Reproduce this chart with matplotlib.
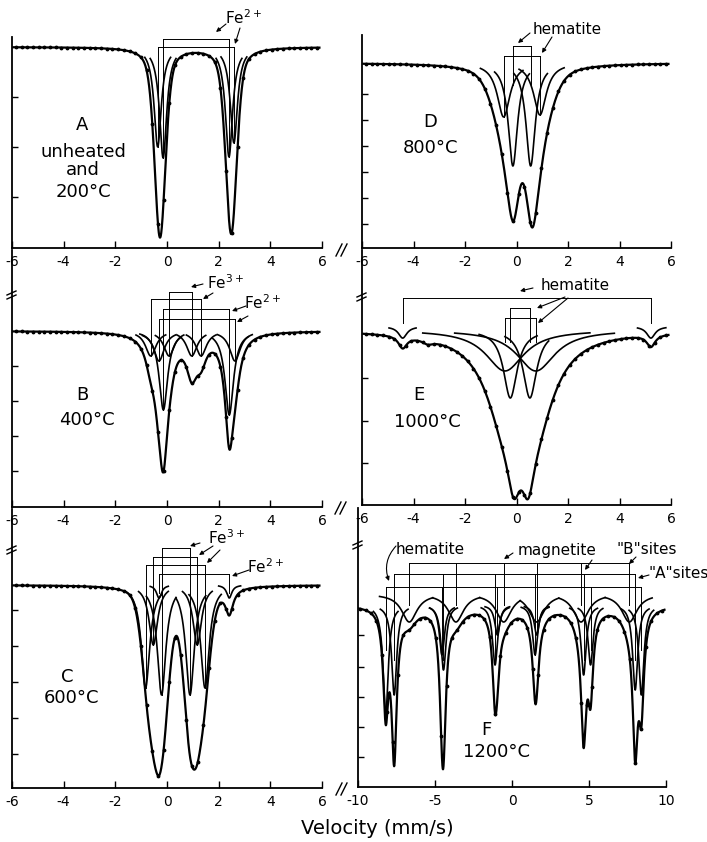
import numpy as np
import matplotlib
matplotlib.use("Agg")
import matplotlib.pyplot as plt
from matplotlib.lines import Line2D

plt.rcParams['font.family'] = ['DejaVu Sans']
plt.rcParams['axes.unicode_minus'] = False

W, H = 707, 842

# Mossbauer fits:
# line centre (mm/s), absorption depth, half width, lorentzian fraction
# A: unheated and 200 C
A_pos = [-0.33, -0.21, 2.42, 2.55]
A_dep = [0.100, 0.100, 0.099, 0.099]
A_wid = [0.24, 0.24, 0.24, 0.24]
A_eta = [0.5, 0.5, 0.5, 0.5]
# sub-spectra: centre, depth, half width, drawn from, drawn to, lift
A_sub = [(-0.36, 0.100, 0.17, -0.86, 0.14, 0),
         (-0.15, 0.111, 0.17, -0.65, 0.35, 0),
         (2.40, 0.110, 0.17, 1.90, 2.90, 0),
         (2.59, 0.096, 0.17, 2.09, 3.09, 0)]

# B: 400 C
B_pos = [-0.14, 2.41, -0.31, 2.63, 0.08, 0.96, -0.63, 1.32]
B_dep = [0.095, 0.095, 0.040, 0.035, 0.020, 0.036, 0.020, 0.022]
B_wid = [0.20, 0.20, 0.25, 0.25, 0.25, 0.25, 0.25, 0.25]
B_eta = [1] * 8
B_sub = [(-0.14, 0.079, 0.20, -0.95, 0.55, 0), (2.41, 0.084, 0.20, 1.75, 3.15, 0),
         (-0.31, 0.030, 0.25, -1.05, 0.35, 0), (2.63, 0.030, 0.25, 1.95, 3.30, 0),
         (0.08, 0.025, 0.25, -0.45, 0.65, 0), (0.96, 0.025, 0.25, 0.40, 1.50, 0),
         (-0.63, 0.025, 0.25, -1.20, -0.05, 0), (1.32, 0.025, 0.25, 0.75, 1.90, 0)]

# C: 600 C
C_pos = [-0.76, -0.46, -0.14, 0.86, 1.16, 1.46, -0.31, 2.41]
C_dep = [0.071, 0.086, 0.110, 0.110, 0.086, 0.071, 0.012, 0.025]
C_wid = [0.30, 0.30, 0.30, 0.30, 0.30, 0.30, 0.18, 0.18]
C_eta = [0.3, 0.3, 0.3, 0.3, 0.3, 0.3, 1, 1]
C_sub = [(-0.21, 0.110, 0.20, -0.80, 0.35, 0), (0.89, 0.110, 0.20, 0.35, 1.50, 0),
         (-0.53, 0.060, 0.20, -1.10, 0.05, 0), (1.17, 0.060, 0.20, 0.60, 1.75, 0),
         (-0.83, 0.103, 0.20, -1.60, -0.20, 0), (1.47, 0.103, 0.20, 0.85, 2.10, 0),
         (-0.31, 0.013, 0.12, -0.65, 0.05, 0), (2.41, 0.013, 0.12, 2.00, 2.85, 0)]

# D: 800 C
D_pos = [-0.12, 0.60, -0.47, 0.91]
D_dep = [0.095, 0.100, 0.060, 0.060]
D_wid = [0.30, 0.30, 0.55, 0.55]
D_eta = [0.6, 0.6, 0.5, 0.5]
D_sub = [(-0.14, 0.103, 0.22, -0.85, 0.50, 0), (0.55, 0.103, 0.22, -0.10, 1.20, 0),
         (-0.50, 0.054, 0.30, -1.40, 0.25, 0), (0.91, 0.052, 0.30, 0.10, 1.85, 0)]

# E: 1000 C
E_pos = [-0.10, 0.45, -0.45, 0.75, -4.42, 5.22, -3.45]
E_dep = [0.052, 0.052, 0.075, 0.075, 0.012, 0.012, 0.004]
E_wid = [0.30, 0.30, 0.90, 0.90, 0.20, 0.20, 0.25]
E_eta = [1] * 7
E_sub = [(-0.24, 0.068, 0.32, -1.45, 0.80, 0), (0.52, 0.068, 0.32, -0.45, 1.25, 0),
         (-0.45, 0.041, 0.90, -3.64, 2.85, 0), (0.75, 0.041, 0.90, -2.40, 3.80, 0),
         (-4.42, 0.0116, 0.20, -4.95, -3.90, 0.0035), (5.22, 0.0116, 0.20, 4.70, 5.80, 0.0035)]

# F: 1200 C (hematite + magnetite A and B sites)
F_hem_pos = [-8.20, -4.55, -0.95, 1.60, 5.10, 8.40]
F_hem_dep = [0.100, 0.060, 0.030, 0.030, 0.075, 0.090]
F_A_pos = [-7.65, -4.45, -1.10, 1.50, 4.65, 8.00]
F_A_dep = [0.144, 0.105, 0.078, 0.055, 0.114, 0.128]
F_B_pos = [-6.67, -3.64, -0.54, 1.60, 4.48, 7.62]
F_B_dep = [0.015, 0.015, 0.015, 0.015, 0.015, 0.015]
F_hem_sub = [(c, d, 0.20, c - 0.8, c + 0.8, 0)
             for c, d in zip(F_hem_pos, [0.11, 0.05, 0.03, 0.03, 0.06, 0.09])]
F_A_sub = [(c, d, 0.20, c - 0.9, c + 0.9, 0)
           for c, d in zip(F_A_pos, [0.09, 0.065, 0.06, 0.05, 0.07, 0.085])]
F_B_edges = [-8.6, -5.15, -2.1, 0.53, 3.04, 6.05, 9.1]
F_B_sub = [(c, 0.028, 0.60, F_B_edges[i], F_B_edges[i + 1], 0.011)
           for i, c in enumerate(F_B_pos)]


def lor(v, c, d, g):
    return d / (1 + ((v - c) / g) ** 2)


def voigt(v, c, d, g, eta):
    x = (v - c) / g
    return d * (eta / (1 + x ** 2) + (1 - eta) * np.exp(-np.log(2) * x ** 2))


def spectrum(v, pos, dep, wid, eta):
    out = np.ones_like(v)
    for c, d, g, e in zip(pos, dep, wid, eta):
        out = out - voigt(v, c, d, g, e)
    return out


def panel(left, top, right, bottom):
    return fig.add_axes([left / W, 1 - bottom / H, (right - left) / W, (bottom - top) / H])


def setup(ax, xlim, ylim, xticks, yticks):
    ax.set_xlim(xlim)
    ax.set_ylim(ylim)
    ax.set_facecolor('none')
    for s in ['top', 'right']:
        ax.spines[s].set_visible(False)
    for s in ['left', 'bottom']:
        ax.spines[s].set_linewidth(1.3)
    ax.set_xticks(xticks)
    ax.set_yticks(yticks)
    ax.tick_params(axis='x', direction='in', length=5, width=1, pad=5, labelsize=10)
    ax.tick_params(axis='y', direction='in', length=4, width=1, labelleft=False)


def draw(ax, pos, dep, wid, eta, sub, step):
    lo, hi = ax.get_xlim()
    v = np.linspace(lo + 0.05, hi - 0.1, 2000)
    ax.plot(v, spectrum(v, pos, dep, wid, eta), color='k', lw=1.6)
    vd = np.arange(lo + 0.15, hi - 0.1, step)
    ax.plot(vd, spectrum(vd, pos, dep, wid, eta), '.', color='k', ms=3.5)
    for c, d, g, a, b, lift in sub:
        vv = np.linspace(a, b, 200)
        ax.plot(vv, 1 + lift - lor(vv, c, d, g), color='k', lw=1.2)


def bracket(ax, subs, y, stop=None):
    xs = [s[0] for s in subs]
    ax.plot([xs[0], xs[-1]], [y, y], color='k', lw=0.7, clip_on=False)
    for s in subs:
        bot = 1 + s[5] - s[1]
        if stop is not None:
            bot = max(bot, stop)
        ax.plot([s[0], s[0]], [y, bot], color='k', lw=0.7, clip_on=False)


def label(x, y, s, size=11, ha='center'):
    fig.text(x / W, 1 - y / H, s, fontsize=size, ha=ha, va='center')


def arrow(x0, y0, x1, y1, rad=0.0):
    fig.axes[0].annotate('', xy=(x1, H - y1), xytext=(x0, H - y0),
                         xycoords='figure pixels', textcoords='figure pixels',
                         arrowprops=dict(arrowstyle='-|>', lw=0.8, color='k',
                                         mutation_scale=6, shrinkA=0, shrinkB=0,
                                         connectionstyle='arc3,rad=%s' % rad),
                         annotation_clip=False)


def stroke(x0, y0, x1, y1):
    fig.add_artist(Line2D([x0 / W, x1 / W], [1 - y0 / H, 1 - y1 / H],
                          transform=fig.transFigure, color='k', lw=1.0))


def spine_break(x, y):
    stroke(x - 5, y + 1, x + 4, y - 3)
    stroke(x - 5, y + 5, x + 4, y + 1)


def axis_break(x, y):
    stroke(x - 5, y + 6, x + 1, y - 6)
    stroke(x, y + 6, x + 6, y - 6)


fig = plt.figure(figsize=(W / 100, H / 100), dpi=100)

axA = panel(12, 37, 322, 248)
axB = panel(12, 250, 322, 507)
axC = panel(12, 509, 322, 788)
axD = panel(362, 35, 671, 248)
axE = panel(362, 250, 671, 505)
axF = panel(358, 508, 666, 787)

ticks6 = [-6, -4, -2, 0, 2, 4, 6]
setup(axA, (-6, 6), (0.799, 1.010), ticks6, [0.95, 0.90, 0.85])
setup(axB, (-6, 6), (0.824, 1.081), ticks6, [0.965, 0.93, 0.895, 0.86])
setup(axC, (-6, 6), (0.797, 1.076), ticks6, [0.975, 0.939, 0.903, 0.867, 0.831])
setup(axD, (-6, 6), (0.815, 1.028), ticks6, [0.969, 0.943, 0.917, 0.891, 0.865, 0.839])
setup(axE, (-6, 6), (0.825, 1.080), ticks6, [0.952, 0.909, 0.867])
setup(axF, (-10, 10), (0.818, 1.097), [-10, -5, 0, 5, 10], [0.970, 0.938, 0.908, 0.878, 0.848])

draw(axA, A_pos, A_dep, A_wid, A_eta, A_sub, 0.22)
draw(axB, B_pos, B_dep, B_wid, B_eta, B_sub, 0.22)
draw(axC, C_pos, C_dep, C_wid, C_eta, C_sub, 0.22)
draw(axD, D_pos, D_dep, D_wid, D_eta, D_sub, 0.22)
draw(axE, E_pos, E_dep, E_wid, E_eta, E_sub, 0.22)
F_pos = F_hem_pos + F_A_pos + F_B_pos
F_dep = F_hem_dep + F_A_dep + F_B_dep
F_wid = [0.2] * 12 + [0.6] * 6
draw(axF, F_pos, F_dep, F_wid, [1] * 18, F_hem_sub + F_A_sub + F_B_sub, 0.35)

# brackets marking the fitted doublets / sextets
bracket(axA, [A_sub[1], A_sub[2]], 1.008)
bracket(axA, [A_sub[0], A_sub[3]], 1.000)
bracket(axB, [B_sub[4], B_sub[5]], 1.039)
bracket(axB, [B_sub[6], B_sub[7]], 1.032)
bracket(axB, [B_sub[0], B_sub[1]], 1.022)
bracket(axB, [B_sub[2], B_sub[3]], 1.012)
bracket(axC, [C_sub[0], C_sub[1]], 1.037)
bracket(axC, [C_sub[2], C_sub[3]], 1.028)
bracket(axC, [C_sub[4], C_sub[5]], 1.020)
bracket(axC, [C_sub[6], C_sub[7]], 1.011, stop=0.992)
bracket(axD, [D_sub[0], D_sub[1]], 1.017, stop=0.978)
bracket(axD, [D_sub[2], D_sub[3]], 1.007)
bracket(axE, [E_sub[4], E_sub[5]], 1.032, stop=1.007)
bracket(axE, [E_sub[0], E_sub[1]], 1.022, stop=0.988)
bracket(axE, [E_sub[2], E_sub[3]], 1.012, stop=0.988)
bracket(axF, F_B_sub, 1.042, stop=1.0)
bracket(axF, F_A_sub, 1.031, stop=0.945)
bracket(axF, F_hem_sub, 1.018, stop=0.955)

# panel names
for ax, items in [(axA, [(-3.28, 0.922, 'A'), (-3.24, 0.895, 'unheated'),
                         (-3.24, 0.877, 'and'), (-3.24, 0.855, '200°C')]),
                  (axB, [(-3.28, 0.936, 'B'), (-3.09, 0.911, '400°C')]),
                  (axC, [(-3.87, 0.908, 'C'), (-3.68, 0.887, '600°C')]),
                  (axD, [(-3.35, 0.941, 'D'), (-3.35, 0.915, '800°C')]),
                  (axE, [(-3.80, 0.935, 'E'), (-3.47, 0.908, '1000°C')]),
                  (axF, [(-1.64, 0.875, 'F'), (-0.99, 0.853, '1200°C')])]:
    for x, y, s in items:
        ax.text(x, y, s, fontsize=13, ha='center', va='center')

# site labels and arrows (figure pixels)
label(243, 18, 'Fe$^{2+}$')
arrow(226, 24, 216, 32)
arrow(240, 28, 235, 44)
label(225, 283, 'Fe$^{3+}$')
arrow(203, 284, 191, 287)
arrow(213, 293, 203, 299)
label(262, 303, 'Fe$^{2+}$')
arrow(246, 306, 232, 311)
arrow(248, 316, 237, 322)
label(226, 538, 'Fe$^{3+}$')
arrow(200, 543, 190, 546)
arrow(213, 546, 199, 555)
arrow(220, 550, 207, 563)
label(265, 567, 'Fe$^{2+}$')
arrow(249, 570, 232, 576)
label(567, 30, 'hematite')
arrow(530, 33, 518, 43)
arrow(552, 37, 542, 53)
label(575, 285, 'hematite')
arrow(533, 288, 520, 291)
arrow(565, 297, 537, 308)
arrow(568, 298, 538, 323)
label(430, 550, 'hematite')
arrow(396, 546, 389, 581, rad=0.3)
label(557, 551, 'magnetite')
arrow(513, 553, 504, 559)
arrow(592, 560, 585, 570)
label(617, 550, '"B"sites', ha='left')
arrow(636, 557, 629, 564)
label(648, 574, '"A"sites', ha='left')
arrow(649, 575, 638, 578)

# axis breaks
spine_break(12, 294)
spine_break(12, 549)
spine_break(362, 296)
spine_break(358, 544)
axis_break(341, 250)
axis_break(340, 508)
axis_break(341, 789)

fig.text(377 / W, 1 - 829 / H, 'Velocity (mm/s)', fontsize=14, ha='center', va='center')

fig.savefig('out.png', dpi=100)
